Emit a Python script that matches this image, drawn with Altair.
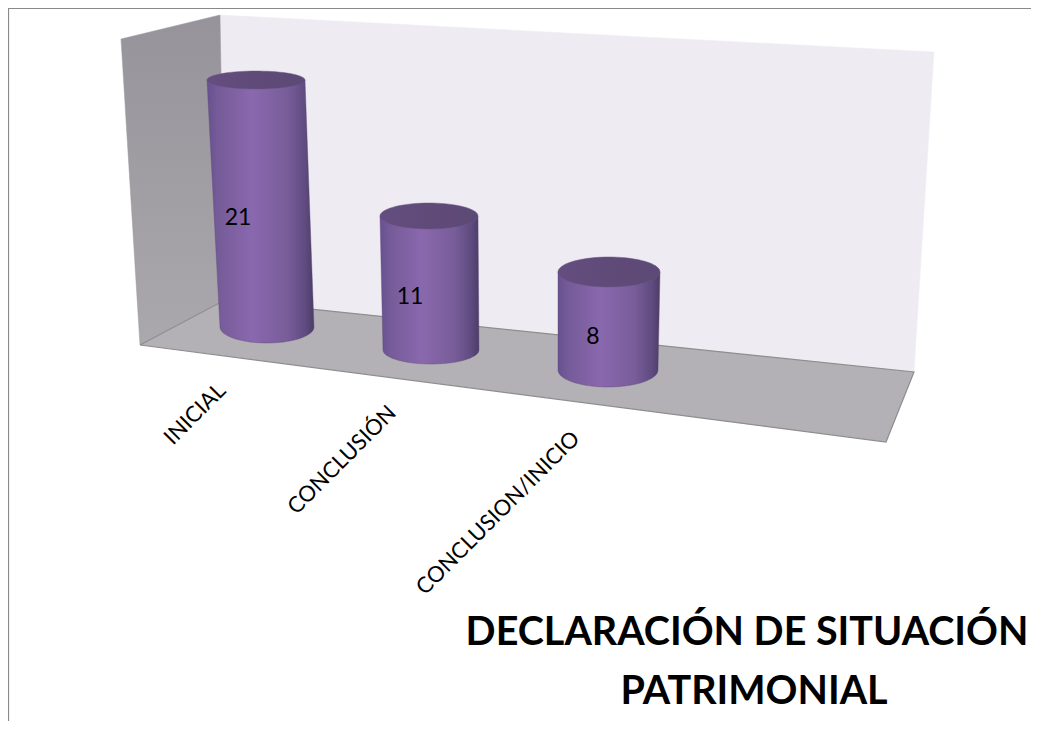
import numpy as np
import pandas as pd
import altair as alt

categories = ["INICIAL", "CONCLUSIÓN", "CONCLUSION/INICIO"]
values = [21, 11, 8]
title_lines = ["DECLARACIÓN DE SITUACIÓN", "PATRIMONIAL"]

# 3-D projection of the scene, in the chart's own coordinates
unit_height = [11.76, 12.18, 12.25]          # perspective: height of one unit per column
base_centre = [(267, 327), (431, 350), (608, 370)]
base_radius = [(47, 16), (48, 14), (50, 17)]
top_radius = [(49, 9), (49, 13), (51, 15)]
top_dx = [-11, -2, 1]
label_pos = [(238, 218), (410, 297), (593, 337)]
cat_pos = [(195, 414), (342, 460), (498, 513)]
left_wall = [(121, 39), (220, 15), (225, 300), (140, 345)]
back_wall = [(220, 15), (934, 52), (914, 372), (225, 300)]
floor = [(140, 345), (225, 300), (914, 372), (886, 442)]

X = alt.Scale(domain=[8, 1031], range=[0, 1023], nice=False, zero=False)
Y = alt.Scale(domain=[8, 721], range=[0, 713], nice=False, zero=False)


def poly(points, **mark):
    pts = list(points)
    df = pd.DataFrame(pts, columns=["x", "y"])
    df["i"] = range(len(df))
    return alt.Chart(df).mark_line(clip=False, **mark).encode(
        x=alt.X("x:Q", scale=X, axis=None),
        y=alt.Y("y:Q", scale=Y, axis=None),
        order="i:Q",
    )


def closed(points):
    return list(points) + [points[0]]


def ellipse(cx, cy, rx, ry, a0=0.0, a1=2 * np.pi, n=72):
    t = np.linspace(a0, a1, n)
    return [(cx + rx * np.cos(a), cy + ry * np.sin(a)) for a in t]


def lin(stops, x2=1, y2=0):
    return alt.Gradient(
        gradient="linear", x1=0, y1=0, x2=x2, y2=y2,
        stops=[alt.GradientStop(offset=o, color=c) for o, c in stops],
    )


body_grad = lin([(0, "#675190"), (0.1, "#755b98"), (0.42, "#8a68ae"),
                 (0.75, "#785d99"), (0.92, "#5f4b80"), (1, "#4c3d66")])
top_grad = lin([(0, "#644e80"), (0.5, "#5f4a78"), (1, "#5d4976")])

layers = [
    poly(closed(back_wall), fill="#eeecf2", stroke="#eeecf2", strokeWidth=0.5),
    poly(closed(left_wall), fill=lin([(0, "#96949a"), (1, "#aaa8ad")], x2=0, y2=1),
         stroke="#9a989d", strokeWidth=0.5),
    poly(closed(floor), fill="#b3b1b6", stroke="#8e8e8e", strokeWidth=1.2),
]

for v, u, (bx, by), (brx, bry), (trx, tr_y), dx in zip(
    values, unit_height, base_centre, base_radius, top_radius, top_dx
):
    tx, ty = bx + dx, by - v * u
    shape = (
        [(tx - trx, ty)]
        + ellipse(bx, by, brx, bry, np.pi, 0)
        + [(tx + trx, ty)]
    )
    layers.append(poly(closed(shape), fill=body_grad, stroke="#5d4a78", strokeWidth=0.4))
    layers.append(poly(closed(ellipse(tx, ty, trx, tr_y)), fill=top_grad,
                       stroke="#6a5688", strokeWidth=0.5))

value_df = pd.DataFrame({"x": [p[0] for p in label_pos], "y": [p[1] for p in label_pos], "v": values})
layers.append(
    alt.Chart(value_df).mark_text(font="Lato", fontSize=23, color="#000000").encode(
        x=alt.X("x:Q", scale=X, axis=None), y=alt.Y("y:Q", scale=Y, axis=None), text="v:N"
    )
)

cat_df = pd.DataFrame({"x": [p[0] for p in cat_pos], "y": [p[1] for p in cat_pos], "c": categories})
layers.append(
    alt.Chart(cat_df).mark_text(font="Lato", fontSize=22, angle=315, color="#000000").encode(
        x=alt.X("x:Q", scale=X, axis=None), y=alt.Y("y:Q", scale=Y, axis=None), text="c:N"
    )
)

title_df = pd.DataFrame({"x": [747, 754], "y": [633, 692], "t": title_lines})
layers.append(
    alt.Chart(title_df).mark_text(font="Lato", fontSize=39.5, fontWeight="bold", color="#000000").encode(
        x=alt.X("x:Q", scale=X, axis=None), y=alt.Y("y:Q", scale=Y, axis=None), text="t:N"
    )
)

# chart-area frame (its right and bottom sides fall outside the picture)
layers.append(poly([(8.5, 721), (8.5, 8.5), (1031, 8.5)], stroke="#8a8a8a", strokeWidth=1.2))

chart = (
    alt.layer(*layers)
    .properties(width=1023, height=713, padding=0, autosize=alt.AutoSizeParams(type="none"), background="#ffffff")
    .configure_view(stroke=None)
)
chart.save("out.html", embed_options={"renderer": "svg", "actions": False})
